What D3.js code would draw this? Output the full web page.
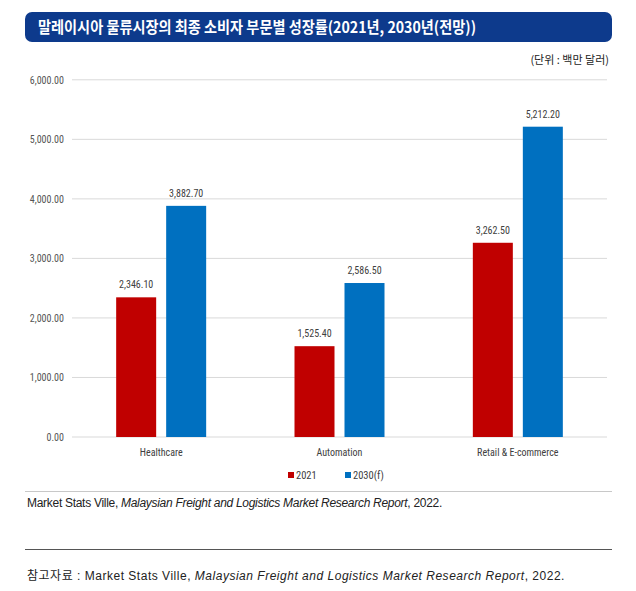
<!DOCTYPE html>
<html><head><meta charset="utf-8">
<script src="https://cdn.jsdelivr.net/npm/d3@7"></script>
<style>
body{margin:0;background:#fff;}
svg{display:block;}
</style></head>
<body>
<svg id="c" width="636" height="591"></svg>
<script>
const title = "말레이시아 물류시장의 최종 소비자 부문별 성장률(2021년, 2030년(전망))";
const unitLabel = "(단위 : 백만 달러)";
const categories = ["Healthcare", "Automation", "Retail & E-commerce"];
const seriesNames = ["2021", "2030(f)"];
const values2021 = [2346.1, 1525.4, 3262.5];
const values2030 = [3882.7, 2586.5, 5212.2];
const yTicks = [0, 1000, 2000, 3000, 4000, 5000, 6000];
const colors = ["#c00000", "#0070c0"];
const sourceText = ["Market Stats Ville, ", "Malaysian Freight and Logistics Market Research Report", ", 2022."];
const refText = ["참고자료 : Market Stats Ville, ", "Malaysian Freight and Logistics Market Research Report", ", 2022."];

const svg = d3.select("#c");
const narrow = "'Liberation Sans Narrow','Roboto Condensed','DejaVu Sans Condensed',Arial,sans-serif";
const sans = "'Noto Sans CJK KR','Noto Sans',sans-serif";

// title box
svg.append("rect").attr("x",25).attr("y",12).attr("width",587).attr("height",30).attr("rx",7).attr("fill","#0d3a8c");
svg.append("text").attr("x",38).attr("y",32.5).attr("fill","#fff").attr("font-family",sans)
  .attr("font-size",15.5).attr("font-weight",700).attr("textLength",438).attr("lengthAdjust","spacingAndGlyphs").text(title);
svg.append("text").attr("x",609).attr("y",64).attr("text-anchor","end").attr("fill","#222")
  .attr("font-family",sans).attr("font-size",11).text(unitLabel);

const x = d3.scaleBand().domain(categories).range([72,607]);
const y = d3.scaleLinear().domain([0,6000]).range([437,79.8]);

// gridlines
svg.append("g").selectAll("line").data(yTicks).join("line")
  .attr("x1",72).attr("x2",607).attr("y1",d=>y(d)).attr("y2",d=>y(d))
  .attr("stroke","#d9d9d9").attr("stroke-width",1);

// y axis labels
const yAxis = d3.axisLeft(y).tickValues(yTicks).tickSize(0).tickPadding(8).tickFormat(d3.format(",.2f"));
const ya = svg.append("g").attr("transform","translate(72,0)").call(yAxis);
ya.select(".domain").remove();
ya.selectAll("text").attr("font-family",narrow).attr("font-size",10).attr("fill","#555");

// bars
const groupData = categories.map((c,i)=>({c, vals:[values2021[i], values2030[i]]}));
const barW = 40, gap = 10;
const g = svg.append("g").selectAll("g").data(groupData).join("g")
  .attr("transform",d=>`translate(${x(d.c)+x.bandwidth()/2},0)`);
const bars = g.selectAll("g").data(d=>d.vals.map((v,j)=>({v,j}))).join("g");
bars.append("rect")
  .attr("x",d=> d.j===0 ? -gap/2-barW : gap/2)
  .attr("width",barW)
  .attr("y",d=>y(d.v)).attr("height",d=>y(0)-y(d.v))
  .attr("fill",d=>colors[d.j]);
bars.append("text")
  .attr("x",d=> d.j===0 ? -gap/2-barW/2 : gap/2+barW/2)
  .attr("y",d=>y(d.v)-9).attr("text-anchor","middle")
  .attr("font-family",narrow).attr("font-size",10).attr("fill","#404040")
  .text(d=>d3.format(",.2f")(d.v));

// x axis labels
const xAxis = d3.axisBottom(x).tickSize(0).tickPadding(12);
const xa = svg.append("g").attr("transform","translate(0,437)").call(xAxis);
xa.select(".domain").remove();
xa.selectAll("text").attr("font-family",narrow).attr("font-size",10).attr("fill","#404040");

// legend
const legX = [288, 345];
const lg = svg.append("g").selectAll("g").data(seriesNames).join("g")
  .attr("transform",(d,i)=>`translate(${legX[i]},479)`);
lg.append("rect").attr("x",0).attr("y",-7).attr("width",6).attr("height",6).attr("fill",(d,i)=>colors[i]);
lg.append("text").attr("x",8).attr("y",0).attr("font-family",narrow).attr("font-size",10.5).attr("fill","#404040").text(d=>d);

// lines
svg.append("line").attr("x1",25).attr("x2",612).attr("y1",491.5).attr("y2",491.5).attr("stroke","#c8c8c8").attr("stroke-width",1);
svg.append("line").attr("x1",25).attr("x2",612).attr("y1",549.5).attr("y2",549.5).attr("stroke","#555").attr("stroke-width",1);

function srcText(parts, yy, len){
  const t = svg.append("text").attr("x",27).attr("y",yy).attr("font-family","'Liberation Sans','Noto Sans CJK KR',sans-serif")
    .attr("font-size",12).attr("fill","#222");
  t.selectAll("tspan").data(parts).join("tspan").attr("font-style",(d,i)=>i===1?"italic":"normal").text(d=>d);
  const w = t.node().getComputedTextLength();
  const n = parts.join("").length;
  t.attr("letter-spacing", ((len - w) / n).toFixed(3));
}
srcText(sourceText, 507, 415);
srcText(refText, 580, 538);
</script>
</body></html>
